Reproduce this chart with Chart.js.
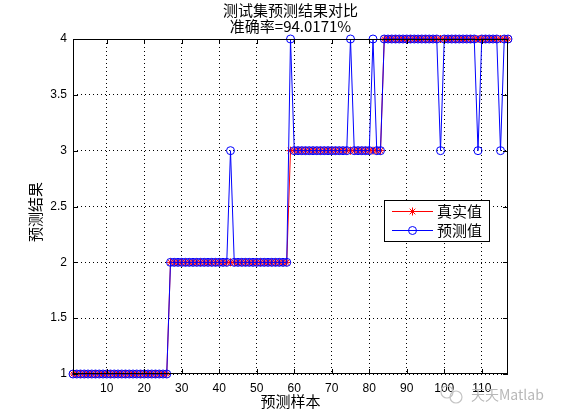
<!DOCTYPE html>
<html>
<head>
<meta charset="utf-8">
<script src="https://cdn.jsdelivr.net/npm/chart.js"></script>
<style>
  body { margin: 0; background: #fff; }
  canvas { display: block; }
</style>
</head>
<body>
<canvas id="resultChart" width="561" height="420"></canvas>
<script>
// 测试集 117 个样本: 真实类别 vs 预测类别
const trueVals = [
    1, 1, 1, 1, 1, 1, 1, 1, 1, 1,
    1, 1, 1, 1, 1, 1, 1, 1, 1, 1,
    1, 1, 1, 1, 1, 1, 2, 2, 2, 2,
    2, 2, 2, 2, 2, 2, 2, 2, 2, 2,
    2, 2, 2, 2, 2, 2, 2, 2, 2, 2,
    2, 2, 2, 2, 2, 2, 2, 2, 3, 3,
    3, 3, 3, 3, 3, 3, 3, 3, 3, 3,
    3, 3, 3, 3, 3, 3, 3, 3, 3, 3,
    3, 3, 3, 4, 4, 4, 4, 4, 4, 4,
    4, 4, 4, 4, 4, 4, 4, 4, 4, 4,
    4, 4, 4, 4, 4, 4, 4, 4, 4, 4,
    4, 4, 4, 4, 4, 4, 4
];
const predVals = [
    1, 1, 1, 1, 1, 1, 1, 1, 1, 1,
    1, 1, 1, 1, 1, 1, 1, 1, 1, 1,
    1, 1, 1, 1, 1, 1, 2, 2, 2, 2,
    2, 2, 2, 2, 2, 2, 2, 2, 2, 2,
    2, 2, 3, 2, 2, 2, 2, 2, 2, 2,
    2, 2, 2, 2, 2, 2, 2, 2, 4, 3,
    3, 3, 3, 3, 3, 3, 3, 3, 3, 3,
    3, 3, 3, 3, 4, 3, 3, 3, 3, 3,
    4, 3, 3, 4, 4, 4, 4, 4, 4, 4,
    4, 4, 4, 4, 4, 4, 4, 4, 3, 4,
    4, 4, 4, 4, 4, 4, 4, 4, 3, 4,
    4, 4, 4, 4, 3, 4, 4
];
const xTicks = [10, 20, 30, 40, 50, 60, 70, 80, 90, 100, 110];
const yTicks = [1, 1.5, 2, 2.5, 3, 3.5, 4];
const seriesNames = ['真实值', '预测值'];
const titleLines = ['测试集预测结果对比', '准确率=94.0171%'];
const xTitle = '预测样本';
const yTitle = '预测结果';

const cjk = '"Noto Sans CJK SC", "Noto Sans", sans-serif';
const num = '"Liberation Sans", Arial, sans-serif';

const toPoints = vals => vals.map((v, i) => ({ x: i + 1, y: v }));

// MATLAB 风格: 标题、坐标框、内向刻度、图例、水印
const matlabDecor = {
    id: 'matlabDecor',
    afterDraw(chart) {
        const ctx = chart.ctx;
        const a = chart.chartArea;
        const xs = chart.scales.x, ys = chart.scales.y;
        ctx.save();

        // box
        ctx.strokeStyle = '#000';
        ctx.lineWidth = 1;
        ctx.strokeRect(a.left + 0.5, a.top + 0.5, a.right - a.left - 1, a.bottom - a.top - 1);

        // inward ticks
        ctx.beginPath();
        xTicks.forEach(v => {
            const px = Math.round(xs.getPixelForValue(v)) + 0.5;
            ctx.moveTo(px, a.bottom); ctx.lineTo(px, a.bottom - 5);
            ctx.moveTo(px, a.top); ctx.lineTo(px, a.top + 5);
        });
        yTicks.forEach(v => {
            const py = Math.round(ys.getPixelForValue(v)) + 0.5;
            ctx.moveTo(a.left, py); ctx.lineTo(a.left + 5, py);
            ctx.moveTo(a.right, py); ctx.lineTo(a.right - 5, py);
        });
        ctx.stroke();

        // titles
        ctx.fillStyle = '#000';
        ctx.textAlign = 'center';
        ctx.textBaseline = 'middle';
        ctx.font = '15px ' + cjk;
        const cx = (a.left + a.right) / 2;
        ctx.fillText(titleLines[0], cx, 10);
        ctx.fillText(titleLines[1], cx, 26);
        ctx.fillText(xTitle, cx, 401);

        ctx.save();
        ctx.translate(35, 212);
        ctx.rotate(-Math.PI / 2);
        ctx.fillText(yTitle, 0, 0);
        ctx.restore();

        // legend
        ctx.fillStyle = '#fff';
        ctx.fillRect(384, 200, 106, 42);
        ctx.strokeStyle = '#000';
        ctx.strokeRect(384.5, 200.5, 105, 41);
        const rows = [211.5, 230.5];
        chart.data.datasets.forEach((ds, i) => {
            const y = rows[i];
            ctx.strokeStyle = ds.borderColor;
            ctx.lineWidth = 1;
            ctx.beginPath();
            ctx.moveTo(392, y); ctx.lineTo(433, y);
            ctx.stroke();
            ctx.fillStyle = 'rgba(0,0,0,0)';
            Chart.helpers.drawPoint(ctx, {
                pointStyle: ds.pointStyle, radius: ds.pointRadius,
                borderWidth: 1, rotation: 0
            }, 412.5, y);
            ctx.fillStyle = '#000';
            ctx.textAlign = 'left';
            ctx.font = '15px ' + cjk;
            ctx.fillText(ds.label, 437, y);
        });

        // watermark
        ctx.strokeStyle = '#c4c4c4';
        ctx.lineWidth = 1.2;
        ctx.beginPath(); ctx.arc(447, 392, 6, 0, Math.PI * 2); ctx.stroke();
        ctx.beginPath(); ctx.arc(456, 397, 6, 0, Math.PI * 2); ctx.stroke();
        ctx.fillStyle = '#b8b8b8';
        ctx.font = '14px ' + cjk;
        ctx.textAlign = 'left';
        ctx.fillText('天天Matlab', 471, 395);

        ctx.restore();
    }
};

new Chart(document.getElementById('resultChart').getContext('2d'), {
    type: 'line',
    data: {
        datasets: [{
            label: seriesNames[0],
            data: toPoints(trueVals),
            borderColor: '#ff0000',
            backgroundColor: '#ff0000',
            borderWidth: 1,
            pointStyle: 'star',
            pointRadius: 4,
            pointBorderWidth: 1,
            pointBackgroundColor: 'rgba(0,0,0,0)',
            clip: false,
            order: 2
        }, {
            label: seriesNames[1],
            data: toPoints(predVals),
            borderColor: '#0000ff',
            backgroundColor: 'rgba(0,0,0,0)',
            borderWidth: 1,
            pointStyle: 'circle',
            pointRadius: 4,
            pointBorderWidth: 1,
            pointBackgroundColor: 'rgba(0,0,0,0)',
            clip: false,
            order: 1
        }]
    },
    options: {
        responsive: false,
        animation: false,
        events: [],
        layout: { padding: { top: 39, right: 53, left: 0, bottom: 0 } },
        plugins: {
            legend: { display: false },
            title: { display: false },
            tooltip: { enabled: false }
        },
        scales: {
            x: {
                type: 'linear',
                min: 1,
                max: 117,
                afterBuildTicks: scale => { scale.ticks = xTicks.map(v => ({ value: v })); },
                afterFit: scale => { scale.height = 46; },
                grid: { color: '#000', lineWidth: 1, drawTicks: false },
                border: { display: false, dash: [1, 3] },
                ticks: {
                    color: '#000',
                    padding: 7,
                    maxRotation: 0,
                    autoSkip: false,
                    font: { family: num, size: 12 }
                }
            },
            y: {
                type: 'linear',
                min: 1,
                max: 4,
                afterBuildTicks: scale => { scale.ticks = yTicks.map(v => ({ value: v })); },
                afterFit: scale => { scale.width = 73; },
                grid: { color: '#000', lineWidth: 1, drawTicks: false },
                border: { display: false, dash: [1, 3] },
                ticks: {
                    color: '#000',
                    padding: 6,
                    autoSkip: false,
                    font: { family: num, size: 12 },
                    callback: v => String(v)
                }
            }
        }
    },
    plugins: [matlabDecor]
});
</script>
</body>
</html>
